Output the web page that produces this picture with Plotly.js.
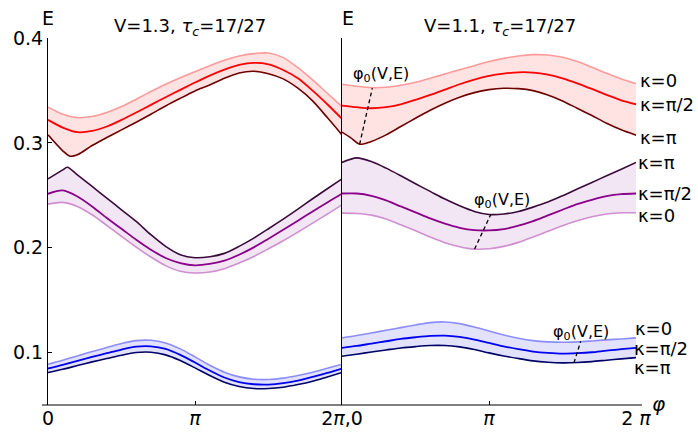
<!DOCTYPE html>
<html>
<head>
<meta charset="utf-8">
<script src="https://cdn.plot.ly/plotly-3.0.1.min.js"></script>
<style>html,body{margin:0;padding:0;background:#fff;}#chart{width:698px;height:435px;}</style>
</head>
<body>
<div id="chart"></div>
<script>
// phi values in units of pi
const phi = [0,0.1,0.2,0.3,0.4,0.5,0.6,0.7,0.8,0.9,1.0,1.1,1.2,1.3,1.4,1.5,1.6,1.7,1.8,1.9,2.0];

// ---- Left panel: V=1.3 ----
const phiL_redPi = [0,0.1,0.15,0.2,0.3,0.4,0.5,0.6,0.7,0.8,0.9,1.0,1.1,1.2,1.3,1.4,1.5,1.6,1.7,1.8,1.9,2.0];
const L_red_kPi  = [0.3076,0.2924,0.2873,0.2886,0.2975,0.3051,0.3124,0.3197,0.3273,0.3352,0.3425,0.3495,0.3552,0.3616,0.3667,0.3683,0.3660,0.3610,0.3521,0.3400,0.3241,0.3076];
const L_red_k0   = [0.3340,0.3273,0.3241,0.3251,0.3289,0.3346,0.3416,0.3489,0.3559,0.3622,0.3679,0.3736,0.3787,0.3829,0.3851,0.3857,0.3813,0.3717,0.3600,0.3473,0.3346];
const L_red_kHalf= [0.3219,0.3146,0.3102,0.3114,0.3156,0.3219,0.3289,0.3362,0.3435,0.3505,0.3575,0.3641,0.3698,0.3743,0.3762,0.3749,0.3695,0.3616,0.3498,0.3368,0.3229];

const phiL_purPi = [0,0.1,0.1315,0.2,0.3,0.4,0.5,0.6,0.7,0.8,0.9,1.0,1.1,1.2,1.3,1.4,1.5,1.6,1.7,1.8,1.9,2.0];
const L_pur_kPi  = [0.2657,0.2742,0.2768,0.2695,0.2584,0.2473,0.2362,0.2251,0.2124,0.2013,0.1933,0.1905,0.1914,0.1946,0.2013,0.2092,0.2181,0.2273,0.2368,0.2467,0.2562,0.2657];
const L_pur_kHalf= [0.2514,0.2546,0.2489,0.2394,0.2283,0.2181,0.2076,0.1981,0.1902,0.1854,0.1832,0.1845,0.1876,0.1933,0.2003,0.2086,0.2171,0.2257,0.2346,0.2432,0.2514];
const L_pur_k0   = [0.2416,0.2432,0.2394,0.2314,0.2213,0.2108,0.2006,0.1911,0.1829,0.1775,0.1759,0.1768,0.1800,0.1854,0.1917,0.1990,0.2067,0.2149,0.2235,0.2321,0.2409];

const L_blu_k0   = [0.0889,0.0927,0.0968,0.1010,0.1048,0.1086,0.1114,0.1117,0.1092,0.1035,0.0959,0.0879,0.0813,0.0768,0.0746,0.0743,0.0756,0.0781,0.0813,0.0851,0.0889];
const L_blu_kHalf= [0.0848,0.0883,0.0921,0.0959,0.0994,0.1029,0.1057,0.1060,0.1035,0.0978,0.0905,0.0829,0.0762,0.0718,0.0698,0.0695,0.0708,0.0733,0.0768,0.0806,0.0848];
const L_blu_kPi  = [0.0810,0.0841,0.0876,0.0911,0.0943,0.0975,0.1000,0.1003,0.0978,0.0924,0.0854,0.0781,0.0717,0.0676,0.0657,0.0657,0.0670,0.0695,0.0727,0.0768,0.0810];

// ---- Right panel: V=1.1 ----
const phiR_redPi = [0,0.06,0.12,0.2,0.3,0.4,0.5,0.6,0.7,0.8,0.9,1.0,1.1,1.2,1.3,1.4,1.5,1.6,1.7,1.8,1.9,2.0];
const R_red_kPi  = [0.3102,0.3048,0.2987,0.3013,0.3076,0.3156,0.3235,0.3311,0.3378,0.3435,0.3479,0.3508,0.3521,0.3517,0.3498,0.3457,0.3400,0.3330,0.3260,0.3187,0.3124,0.3073];
const R_red_k0   = [0.3559,0.3540,0.3527,0.3530,0.3549,0.3578,0.3616,0.3657,0.3698,0.3736,0.3775,0.3806,0.3829,0.3841,0.3838,0.3816,0.3775,0.3721,0.3663,0.3610,0.3565];
const R_red_kHalf= [0.3356,0.3340,0.3330,0.3340,0.3368,0.3410,0.3457,0.3508,0.3559,0.3603,0.3638,0.3660,0.3673,0.3670,0.3651,0.3616,0.3568,0.3514,0.3457,0.3406,0.3368];

const R_pur_kPi  = [0.2813,0.2857,0.2822,0.2759,0.2686,0.2610,0.2537,0.2464,0.2400,0.2346,0.2317,0.2321,0.2346,0.2387,0.2435,0.2495,0.2559,0.2622,0.2686,0.2749,0.2813];
const R_pur_kHalf= [0.2517,0.2517,0.2495,0.2451,0.2394,0.2337,0.2279,0.2229,0.2190,0.2168,0.2165,0.2178,0.2210,0.2254,0.2308,0.2362,0.2416,0.2457,0.2492,0.2511,0.2517];
const R_pur_k0   = [0.2330,0.2327,0.2311,0.2273,0.2219,0.2162,0.2102,0.2048,0.2010,0.1987,0.1990,0.2013,0.2051,0.2102,0.2156,0.2210,0.2257,0.2295,0.2321,0.2333,0.2333];

const R_blu_k0   = [0.1140,0.1162,0.1187,0.1213,0.1238,0.1263,0.1286,0.1292,0.1276,0.1244,0.1206,0.1168,0.1137,0.1114,0.1102,0.1098,0.1102,0.1111,0.1121,0.1130,0.1140];
const R_blu_kHalf= [0.1044,0.1063,0.1086,0.1108,0.1130,0.1146,0.1159,0.1162,0.1149,0.1124,0.1092,0.1060,0.1032,0.1010,0.0997,0.0990,0.0994,0.1003,0.1019,0.1032,0.1044];
const R_blu_kPi  = [0.0965,0.0984,0.1006,0.1025,0.1044,0.1057,0.1067,0.1067,0.1054,0.1029,0.0997,0.0968,0.0943,0.0921,0.0908,0.0902,0.0905,0.0914,0.0927,0.0940,0.0952];

// phi0(V,E) dashed markers (right panel): [phi/pi start, end], [E start, end]
const phi0_red_x = [0.120, 0.206], phi0_red_y = [0.2987, 0.3521];
const phi0_pur_x = [0.902, 1.011], phi0_pur_y = [0.1987, 0.2314];
const phi0_blu_x = [1.578, 1.624], phi0_blu_y = [0.0902, 0.1108];

const tickLabelsL = ['0', '<i>π</i>', '2<i>π</i>,0'];
const tickLabelsR = ['<i>π</i>', '2 <i>π</i>'];
const yTicks = [0.1, 0.2, 0.3, 0.4];

const rad = a => a.map(v => v * Math.PI);
const FONT = 'DejaVu Sans, sans-serif';

const bands = {
  red:    {dark:'#6e0000', mid:'#ff0000', light:'#ff9a9a', fill:'#ffe3e3'},
  purple: {dark:'#3a0a3a', mid:'#8a008a', light:'#cf8fd0', fill:'#f3e6f4'},
  blue:   {dark:'#000066', mid:'#0000f0', light:'#8c8cff', fill:'#e2e2fd'}
};

const traces = [];
function band(xa, ya, xPi, yPi, x0, y0, xh, yh, c) {
  traces.push({x: rad(xPi), y: yPi, xaxis: xa, yaxis: ya, mode:'lines',
    line:{color:c.dark, width:1.6, shape:'spline', smoothing:0.8}, hoverinfo:'skip'});
  traces.push({x: rad(x0), y: y0, xaxis: xa, yaxis: ya, mode:'lines', fill:'tonexty', fillcolor:c.fill,
    line:{color:c.light, width:1.6, shape:'spline', smoothing:0.8}, hoverinfo:'skip'});
  traces.push({x: rad(xh), y: yh, xaxis: xa, yaxis: ya, mode:'lines',
    line:{color:c.mid, width:1.8, shape:'spline', smoothing:0.8}, hoverinfo:'skip'});
}
band('x','y', phiL_redPi, L_red_kPi, phi, L_red_k0, phi, L_red_kHalf, bands.red);
band('x','y', phiL_purPi, L_pur_kPi, phi, L_pur_k0, phi, L_pur_kHalf, bands.purple);
band('x','y', phi, L_blu_kPi, phi, L_blu_k0, phi, L_blu_kHalf, bands.blue);
band('x2','y2', phiR_redPi, R_red_kPi, phi, R_red_k0, phi, R_red_kHalf, bands.red);
band('x2','y2', phi, R_pur_kPi, phi, R_pur_k0, phi, R_pur_kHalf, bands.purple);
band('x2','y2', phi, R_blu_kPi, phi, R_blu_k0, phi, R_blu_kHalf, bands.blue);

[[phi0_red_x, phi0_red_y],[phi0_pur_x, phi0_pur_y],[phi0_blu_x, phi0_blu_y]].forEach(p => {
  traces.push({x: rad(p[0]), y: p[1], xaxis:'x2', yaxis:'y2', mode:'lines',
    line:{color:'#000', width:1.3, dash:'4px,3px'}, hoverinfo:'skip'});
});

const axFont = {family: FONT, size: 19, color: '#000'};
const pxX = px => (px - 48) / 588;
const pxY = py => (405 - py) / 367;

function ann(text, px, py, size, xanchor, extra) {
  return Object.assign({text, xref:'paper', yref:'paper', x: pxX(px), y: pxY(py),
    xanchor: xanchor || 'center', yanchor:'middle', showarrow:false,
    font:{family: FONT, size: size, color:'#000'}}, extra || {});
}

const annotations = [
  ann('V=1.3, <i>τ<sub>c</sub></i>=17/27', 190, 27, 18),
  ann('V=1.1, <i>τ<sub>c</sub></i>=17/27', 500, 27, 18),
  ann('E', 47.5, 18, 19),
  ann('E', 348, 18, 19),
  ann('<i>φ</i>', 658, 404, 20),
  ann('φ<sub>0</sub>(V,E)', 381, 74, 16),
  ann('φ<sub>0</sub>(V,E)', 501.5, 200, 16),
  ann('φ<sub>0</sub>(V,E)', 581, 332, 16),
  ann('κ=0', 638, 80, 18, 'left'),
  ann('κ=π/2', 638, 104, 18, 'left'),
  ann('κ=π', 638, 137, 18, 'left'),
  ann('κ=π', 636, 162, 18, 'left'),
  ann('κ=π/2', 636, 193, 18, 'left'),
  ann('κ=0', 636, 215, 18, 'left'),
  ann('κ=0', 633, 328, 18, 'left'),
  ann('κ=π/2', 632, 348, 18, 'left'),
  ann('κ=π', 632, 367, 18, 'left')
];

const layout = {
  width: 698, height: 435,
  margin: {l: 48, r: 62, t: 38, b: 30, pad: 0},
  paper_bgcolor: '#fff', plot_bgcolor: 'rgba(0,0,0,0)',
  showlegend: false,
  font: {family: FONT, color: '#000'},
  xaxis: {domain: [0, 0.5], range: [0, 2*Math.PI], anchor: 'y',
    tickvals: rad([0, 1, 2]), ticktext: tickLabelsL, ticks: 'inside', ticklen: 4, tickcolor:'#000',
    showgrid: false, zeroline: false, showline: false, tickfont: axFont},
  xaxis2: {domain: [0.5, 1], range: [0, 2*Math.PI], anchor: 'y2',
    tickvals: rad([1, 2]), ticktext: tickLabelsR, ticks: 'inside', ticklen: 4, tickcolor:'#000',
    showgrid: false, zeroline: false, showline: false, tickfont: axFont},
  yaxis: {domain: [0, 1], range: [0.05, 0.4], anchor: 'x',
    tickvals: yTicks, ticktext: yTicks.map(v => v.toFixed(1)), ticks: 'inside', ticklen: 4, tickcolor:'#000',
    showgrid: false, zeroline: false, showline: true, linecolor: '#000', linewidth: 1, tickfont: axFont},
  yaxis2: {domain: [0, 1], range: [0.05, 0.4], anchor: 'x2', matches: 'y',
    showticklabels: false, ticks: '', showgrid: false, zeroline: false,
    showline: true, linecolor: '#000', linewidth: 1},
  shapes: [{type:'line', xref:'paper', yref:'paper', x0: pxX(42), x1: pxX(642), y0: 0, y1: 0,
    line:{color:'#000', width:1}}],
  annotations: annotations
};

Plotly.newPlot('chart', traces, layout, {displayModeBar: false, staticPlot: true});
</script>
</body>
</html>
